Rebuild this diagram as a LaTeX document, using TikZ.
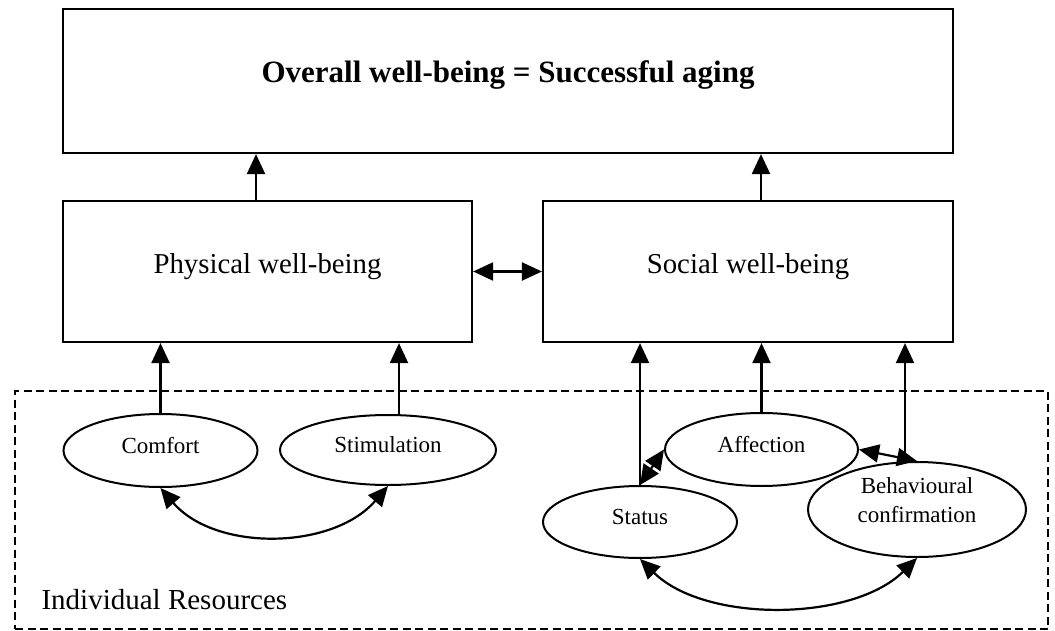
\documentclass[tikz,border=0pt]{standalone}
\usepackage{fontspec}
\setmainfont{Liberation Serif}
\usetikzlibrary{arrows.meta,shapes.geometric,calc}

\begin{document}
\begin{tikzpicture}[x=1pt,y=-1pt,
  box/.style={draw,rectangle,line width=2.2pt,inner sep=0pt,
    font=\fontsize{28.8}{34}\selectfont,text height=22pt,text depth=19pt},
  resource/.style={draw,ellipse,line width=2pt,inner sep=0pt,
    font=\fontsize{23}{29}\selectfont},
  oneline/.style={text height=20pt,text depth=15pt},
  frame/.style={draw,rectangle,line width=1.9pt,dash pattern=on 8pt off 4.5pt,inner sep=0pt},
  tip/.tip={Triangle[length=20pt,width=18pt]},
  arr/.style={line width=2.2pt,-tip},
  darr/.style={line width=2.2pt,tip-tip}]

  \useasboundingbox (0,0) rectangle (1055,631);

  % outcome
  \node[box,minimum width=890pt,minimum height=144pt,
        font=\bfseries\fontsize{31}{36}\selectfont,text height=21pt,text depth=17pt]
        (top) at (508,81) {Overall well-being = Successful aging};

  % the two domains of well-being
  \node[box,minimum width=409pt,minimum height=141pt] (phys) at (267.5,271.5) {Physical well-being};
  \node[box,minimum width=410pt,minimum height=141pt] (soc) at (748,271.5) {Social well-being};

  % individual resources
  \node[frame,minimum width=1033pt,minimum height=238pt] (res) at (531.5,510) {};
  \node[anchor=base west,font=\fontsize{29}{34}\selectfont] (reslabel) at (38,609) {Individual Resources};

  \node[resource,oneline,minimum width=194pt,minimum height=73pt] (comfort) at (160.5,450.5) {Comfort};
  \node[resource,oneline,minimum width=216pt,minimum height=70pt] (stim) at (388,450) {Stimulation};
  \node[resource,oneline,minimum width=194pt,minimum height=72pt] (status) at (640,522) {Status};
  \node[resource,oneline,minimum width=193pt,minimum height=73pt] (aff) at (761.5,449.5) {Affection};
  \node[resource,align=center,text height=45pt,text depth=20pt,
        minimum width=218pt,minimum height=95pt] (beh) at (917,509.5) {Behavioural\\confirmation};

  % attachment points off the node centres
  \coordinate (physup) at ([xshift=-11.5pt]phys.north);
  \coordinate (socup) at ([xshift=13pt]soc.north);
  \coordinate (stimup) at ([xshift=11pt]stim.north);
  \coordinate (behup) at ([xshift=-12pt]beh.north);

  % domains feed the outcome
  \draw[arr] (physup) -- (physup |- top.south);
  \draw[arr] (socup) -- (socup |- top.south);
  \draw[darr] (phys.east) -- (soc.west);

  % resources feed the domains
  \draw[arr] (comfort.north) -- (comfort.north |- phys.south);
  \draw[arr] (stimup) -- (stimup |- phys.south);
  \draw[arr] (status.north) -- (status.north |- soc.south);
  \draw[arr] (aff.north) -- (aff.north |- soc.south);
  \draw[arr] (behup) -- (behup |- soc.south);

  % links among resources
  \draw[darr] (comfort.south) .. controls +(55,64) and +(-55,64) .. (stim.south);
  \draw[darr] (status.north) -- (aff.west);
  \draw[darr] (aff.east) -- (beh.north);
  \draw[darr] (status.south) .. controls +(65,64) and +(-65,64) .. (beh.south);
\end{tikzpicture}
\end{document}
